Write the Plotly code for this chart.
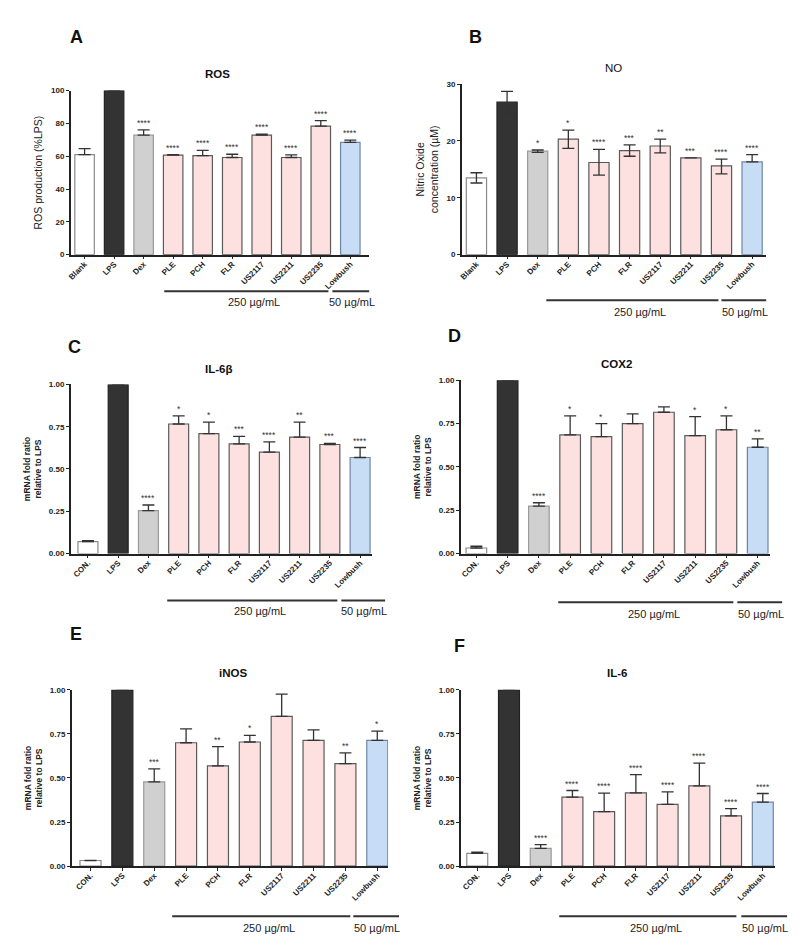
import plotly.graph_objects as go

# ---------------- data ----------------
cats_ab = ["Blank", "LPS", "Dex", "PLE", "PCH", "FLR", "US2117", "US2211", "US2235", "Lowbush"]
cats_cf = ["CON.", "LPS", "Dex", "PLE", "PCH", "FLR", "US2117", "US2211", "US2235", "Lowbush"]

ros_mean = [61.0, 100.0, 72.8, 60.6, 60.4, 59.2, 72.8, 59.2, 78.3, 68.4]
ros_err = [3.6, 0.0, 3.2, 0.4, 3.2, 2.0, 0.6, 1.6, 3.4, 1.4]
ros_stars = ["", "", "****", "****", "****", "****", "****", "****", "****", "****"]

no_mean = [13.5, 26.8, 18.2, 20.3, 16.2, 18.3, 19.1, 17.0, 15.6, 16.3]
no_err_up = [0.9, 1.9, 0.2, 1.6, 2.3, 1.0, 1.2, 0.0, 1.2, 1.3]
no_err_down = [0.9, 1.9, 0.2, 1.6, 2.2, 1.0, 1.2, 0.0, 1.4, 0.0]
no_stars = ["", "", "*", "*", "****", "***", "**", "***", "****", "****"]

il6b_mean = [0.070, 1.0, 0.254, 0.766, 0.709, 0.648, 0.600, 0.689, 0.645, 0.568]
il6b_err = [0.006, 0.0, 0.033, 0.048, 0.068, 0.045, 0.060, 0.088, 0.007, 0.059]
il6b_stars = ["", "", "****", "*", "*", "***", "****", "**", "***", "****"]

cox2_mean = [0.032, 1.0, 0.274, 0.684, 0.674, 0.750, 0.815, 0.680, 0.714, 0.613]
cox2_err = [0.010, 0.0, 0.019, 0.110, 0.076, 0.056, 0.031, 0.110, 0.080, 0.048]
cox2_stars = ["", "", "****", "*", "*", "", "", "*", "*", "**"]

inos_mean = [0.032, 1.0, 0.478, 0.700, 0.569, 0.704, 0.850, 0.713, 0.581, 0.713]
inos_err = [0.0, 0.0, 0.074, 0.079, 0.109, 0.038, 0.126, 0.060, 0.061, 0.053]
inos_stars = ["", "", "***", "", "**", "*", "", "", "**", "*"]

il6_mean = [0.073, 1.0, 0.101, 0.391, 0.309, 0.416, 0.350, 0.455, 0.285, 0.363]
il6_err = [0.006, 0.0, 0.021, 0.038, 0.105, 0.103, 0.071, 0.129, 0.041, 0.049]
il6_stars = ["", "", "****", "****", "****", "****", "****", "****", "****", "****"]

group_labels = ["250 \u00b5g/mL", "50 \u00b5g/mL"]

# ---------------- styling ----------------
W, H = 800, 952
FONT = "Liberation Sans, Arial, sans-serif"
bar_colors = ["#ffffff", "#333333", "#d0d0d0"] + ["#fde0e0"] * 6 + ["#c7dcf5"]
bar_lines = ["#8a8a8a", "#222222", "#9a9a9a"] + ["#5a5a5a"] * 6 + ["#6f86a3"]


def px_x(p):
    return p / W


def px_y(p):
    return 1 - p / H


panels = [
    dict(letter="A", title="ROS", tbold=True, cats=cats_ab, mean=ros_mean, up=ros_err, down=None,
         stars=ros_stars, x0=59, x1=359, xr=[-0.47, 9.64], yb=245, yt=79.3, yr=[0, 100],
         tickvals=[0, 20, 40, 60, 80, 100], fmt="d", ytitle="ROS production (%LPS)", ytbold=False, ytsize=10.5,
         tpos=(207, 63), lpos=(65, 25), gl=(282, 153, 318, 322, 359, 293)),
    dict(letter="B", title="NO", tbold=False, cats=cats_ab, mean=no_mean, up=no_err_up, down=no_err_down,
         stars=no_stars, x0=452, x1=758, xr=[-0.48, 9.46], yb=245, yt=72.7, yr=[0, 30],
         tickvals=[0, 10, 20, 30], fmt="d", ytitle="Nitric Oxide<br>concentration (\u00b5M)", ytbold=False, ytsize=10.5,
         tpos=(605, 57), lpos=(466, 25), gl=(291, 537, 710, 713, 758, 303)),
    dict(letter="C", title="IL-6\u03b2", tbold=True, cats=cats_cf, mean=il6b_mean, up=il6b_err, down=None,
         stars=il6b_stars, x0=59, x1=362, xr=[-0.57, 9.4], yb=546.7, yt=376, yr=[0, 1],
         tickvals=[0, 0.25, 0.5, 0.75, 1.0], fmt=".2f", ytitle="mRNA fold ratio<br>relative to LPS", ytbold=True, ytsize=8.5,
         tpos=(208, 360), lpos=(63, 338), gl=(594, 156, 327, 331, 375, 605)),
    dict(letter="D", title="COX2", tbold=True, cats=cats_cf, mean=cox2_mean, up=cox2_err, down=None,
         stars=cox2_stars, x0=451, x1=762, xr=[-0.5, 9.4], yb=546.7, yt=371.7, yr=[0, 1],
         tickvals=[0, 0.25, 0.5, 0.75, 1.0], fmt=".2f", ytitle="mRNA fold ratio<br>relative to LPS", ytbold=True, ytsize=8.5,
         tpos=(608, 355), lpos=(445, 327), gl=(596, 549, 725, 729, 774, 608)),
    dict(letter="E", title="iNOS", tbold=True, cats=cats_cf, mean=inos_mean, up=inos_err, down=None,
         stars=inos_stars, x0=60, x1=378, xr=[-0.59, 9.34], yb=862.3, yt=684.3, yr=[0, 1],
         tickvals=[0, 0.25, 0.5, 0.75, 1.0], fmt=".2f", ytitle="mRNA fold ratio<br>relative to LPS", ytbold=True, ytsize=8.5,
         tpos=(222, 667), lpos=(64, 628), gl=(913, 161, 340, 343, 389, 925)),
    dict(letter="F", title="IL-6", tbold=True, cats=cats_cf, mean=il6_mean, up=il6_err, down=None,
         stars=il6_stars, x0=451, x1=767, xr=[-0.52, 9.39], yb=862.3, yt=684.3, yr=[0, 1],
         tickvals=[0, 0.25, 0.5, 0.75, 1.0], fmt=".2f", ytitle="mRNA fold ratio<br>relative to LPS", ytbold=True, ytsize=8.5,
         tpos=(608, 667), lpos=(450, 640), gl=(913, 550, 728, 733, 779, 925)),
]

fig = go.Figure()
annotations = []
shapes = []

for i, p in enumerate(panels):
    n = i + 1
    xa = "x" if n == 1 else f"x{n}"
    ya = "y" if n == 1 else f"y{n}"
    xkey = "xaxis" if n == 1 else f"xaxis{n}"
    ykey = "yaxis" if n == 1 else f"yaxis{n}"
    idx = list(range(len(p["cats"])))

    err = dict(type="data", array=p["up"], symmetric=False,
               arrayminus=p["down"] if p["down"] is not None else [0] * len(p["up"]),
               color="#333333", thickness=1.3, width=6)
    fig.add_trace(go.Bar(x=idx, y=p["mean"], xaxis=xa, yaxis=ya, width=0.66,
                         marker=dict(color=bar_colors, line=dict(color=bar_lines, width=1.2)),
                         error_y=err, showlegend=False, hoverinfo="skip"))

    fig.layout[xkey] = dict(domain=[px_x(p["x0"]), px_x(p["x1"])], range=p["xr"], anchor=ya,
                            tickmode="array", tickvals=idx, ticktext=p["cats"], tickangle=-45,
                            tickfont=dict(family=FONT, size=8, color="#222", weight="bold"),
                            ticklabelstandoff=-3,
                            showline=True, linecolor="#222", linewidth=1.5, ticks="outside",
                            ticklen=3, tickcolor="#222", showgrid=False, zeroline=False, fixedrange=True)
    fig.layout[ykey] = dict(domain=[px_y(p["yb"]), px_y(p["yt"])], range=p["yr"], anchor=xa,
                            tickmode="array", tickvals=p["tickvals"], tickformat=p["fmt"],
                            tickfont=dict(family=FONT, size=8, color="#222", weight="bold"),
                            showline=True, linecolor="#222", linewidth=1.5, ticks="outside",
                            ticklen=3, tickcolor="#222", showgrid=False, zeroline=False, fixedrange=True,
                            title=dict(text=p["ytitle"], standoff=6,
                                       font=dict(family=FONT, size=p["ytsize"], color="#222",
                                                 weight="bold" if p["ytbold"] else "normal")))

    # significance stars
    for k, s in enumerate(p["stars"]):
        if s:
            annotations.append(dict(x=k, y=p["mean"][k] + p["up"][k], xref=xa, yref=ya, text=s,
                                    showarrow=False, yanchor="bottom", yshift=0,
                                    font=dict(family=FONT, size=8.5, color="#333")))
    # title
    annotations.append(dict(x=px_x(p["tpos"][0]), y=px_y(p["tpos"][1]), xref="paper", yref="paper",
                            text=p["title"], showarrow=False, xanchor="center", yanchor="middle",
                            font=dict(family=FONT, size=11.5, color="#111",
                                      weight="bold" if p["tbold"] else "normal")))
    # panel letter
    annotations.append(dict(x=px_x(p["lpos"][0]), y=px_y(p["lpos"][1]), xref="paper", yref="paper",
                            text=p["letter"], showarrow=False, xanchor="center", yanchor="middle",
                            font=dict(family=FONT, size=18, color="#111", weight="bold")))
    # group lines and labels
    gy, a0, a1, b0, b1, ty = p["gl"]
    for (s0, s1), lab in zip([(a0, a1), (b0, b1)], group_labels):
        shapes.append(dict(type="line", xref="paper", yref="paper", x0=px_x(s0), x1=px_x(s1),
                           y0=px_y(gy), y1=px_y(gy), line=dict(color="#333", width=2)))
        annotations.append(dict(x=px_x((s0 + s1) / 2 + (8 if lab.startswith("250") else 1)), y=px_y(ty),
                                xref="paper", yref="paper", text=lab, showarrow=False,
                                xanchor="center", yanchor="middle",
                                font=dict(family=FONT, size=11, color="#222")))

fig.update_layout(width=W, height=H, margin=dict(l=0, r=0, t=0, b=0),
                  paper_bgcolor="white", plot_bgcolor="white",
                  annotations=annotations, shapes=shapes, bargap=0.3,
                  font=dict(family=FONT))

fig.write_html("out.html")
